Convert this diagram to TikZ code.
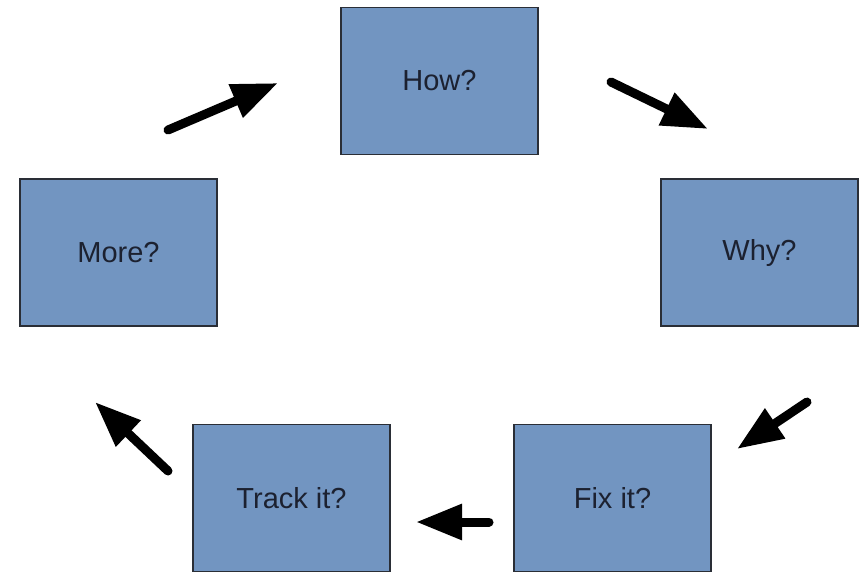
\documentclass[tikz,border=0pt]{standalone}
\usepackage{fontspec}
\setmainfont{Liberation Sans}
\usetikzlibrary{arrows.meta}
\definecolor{boxblue}{HTML}{7295C1}
\definecolor{boxline}{HTML}{2A2E36}
\definecolor{txtdark}{HTML}{1C2130}
\tikzset{
  stepbox/.style={draw=boxline, fill=boxblue, line width=1.5pt, minimum width=197pt,
    minimum height=147pt, inner sep=0pt, text=txtdark, font=\fontsize{29}{34}\selectfont},
  flow/.style={line width=9pt, line cap=round, -{Triangle[length=46pt,width=34pt]}}
}
\begin{document}
\begin{tikzpicture}[y=1pt, x=1pt, yscale=-1]
\useasboundingbox (0,0) rectangle (865,573);
    \node[stepbox] (how) at (439.5,81) {How?};
    \node[stepbox] (why) at (759.5,252.5) {Why?};
    \node[stepbox] (fix) at (612.5,498) {Fix it?};
    \node[stepbox] (track) at (291.5,498) {Track it?};
    \node[stepbox] (more) at (118.5,252.5) {More?};
    % arrow ends
    \coordinate (a1) at (168,130);
    \coordinate (b1) at (278,83);
    \coordinate (a2) at (611,82);
    \coordinate (b2) at (708,129);
    \coordinate (a3) at (807,402);
    \coordinate (b3) at (737,449);
    \coordinate (a4) at (489,522);
    \coordinate (b4) at (416,522);
    \coordinate (a5) at (168,471);
    \coordinate (b5) at (95,402);
    \draw[flow] (a1) -- (b1);
    \draw[flow] (a2) -- (b2);
    \draw[flow] (a3) -- (b3);
    \draw[flow] (a4) -- (b4);
    \draw[flow] (a5) -- (b5);
\end{tikzpicture}
\end{document}
